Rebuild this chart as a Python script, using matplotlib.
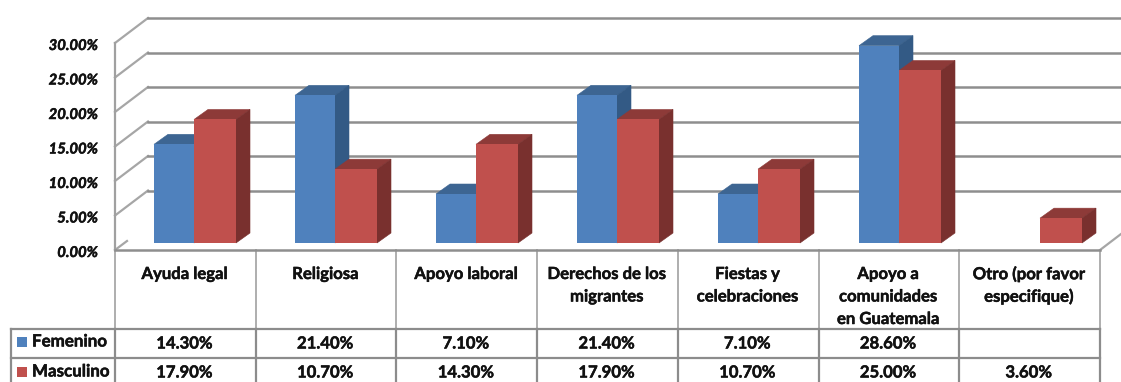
import matplotlib
matplotlib.use('Agg')
import matplotlib.pyplot as plt
import matplotlib.patheffects as pe
from matplotlib.patches import Polygon, Rectangle

# data
categorias = ['Ayuda legal', 'Religiosa', 'Apoyo laboral', 'Derechos de los\nmigrantes',
              'Fiestas y\ncelebraciones', 'Apoyo a\ncomunidades\nen Guatemala',
              'Otro (por favor\nespecifique)']
femenino = [14.3, 21.4, 7.1, 21.4, 7.1, 28.6, None]
masculino = [17.9, 10.7, 14.3, 17.9, 10.7, 25.0, 3.6]
ticks = [0, 5, 10, 15, 20, 25, 30]

W, H = 1121, 382
plt.rcParams['font.family'] = ['Lato', 'DejaVu Sans']
fig = plt.figure(figsize=(W / 100, H / 100), dpi=100)

# slightly heavier text, the original is a tight bold face
fat = [pe.withStroke(linewidth=0.35, foreground='#111111')]

# pixel axes for walls and table
bg = fig.add_axes([0, 0, 1, 1])
bg.set_xlim(0, W)
bg.set_ylim(H, 0)
bg.axis('off')

# data axes for the bars, scaled to sit on the floor of the chart
gstep = 141.0
ystep = 6.9
ax = fig.add_axes([0, 0, 1, 1])
ax.set_xlim(-194 / gstep, (W - 194) / gstep)
ax.set_ylim((243 - H) / ystep, 243 / ystep)
ax.axis('off')
ax.patch.set_alpha(0)

GRID = '#8e8e8e'
front_x0, front_x1 = 115, 1100
front_y0, level = 250, 34.5
ddx, ddy = 33, 25

for t in ticks:
    y = front_y0 - t / 5 * level
    if t > 0:
        bg.plot([front_x0, front_x0 + ddx], [y, y - ddy], color='#a6a6a6', lw=1.6)
        bg.plot([front_x0 + ddx, W], [y - ddy, y - ddy], color=GRID, lw=1.8)
    bg.text(98, y + 3, '%.2f%%' % t, ha='right', va='center', fontsize=10.7,
            fontweight='bold', fontstyle='italic', color='#111111', path_effects=fat)
bg.plot([front_x0, front_x0 + 12], [front_y0, front_y0 - 9], color='#a6a6a6', lw=1.6)
bg.plot([front_x1, W], [front_y0, front_y0 - 16], color='#a6a6a6', lw=1.6)
bg.plot([front_x0, front_x0], [front_y0 - 6 * level, front_y0], color='#a0a0a0', lw=1.6)

# bars
wf = 40 / gstep
wm = 42 / gstep
dx = 14 / gstep
dy = 10 / ystep


def bar3d(left, v, width, face, top, side):
    ax.bar(left, v, width, align='edge', color=face, linewidth=0, zorder=3)
    l, r = left, left + width
    ax.add_patch(Polygon([(l, v), (l + dx, v + dy), (r + dx, v + dy), (r, v)],
                         closed=True, fc=top, ec=top, lw=0.4, zorder=2.9))
    ax.add_patch(Polygon([(r, 0), (r + dx, dy), (r + dx, v + dy), (r, v)],
                         closed=True, fc=side, ec=side, lw=0.4, zorder=2.9))


for i in range(len(categorias)):
    if femenino[i] is not None:
        bar3d(i - wf, femenino[i], wf, '#4f81bd', '#3d6592', '#335a85')
    if masculino[i] is not None:
        bar3d(i, masculino[i], wm, '#c0504d', '#8d3a38', '#79302e')

# data table
sep = [front_x0 + (front_x1 - front_x0) / 7 * i for i in range(8)]
LINE = '#a8a8a8'
LINE2 = '#8c8c8c'
for s in sep:
    bg.plot([s, s], [front_y0, 329], color=LINE, lw=1.3)
    bg.plot([s, s], [329, H], color=LINE2, lw=1.6)
bg.plot([front_x0, front_x1], [front_y0, front_y0], color=GRID, lw=1.8)
bg.plot([11, front_x1], [329, 329], color=LINE2, lw=1.6)
bg.plot([11, front_x1], [358, 358], color=LINE2, lw=1.6)
bg.plot([11, 11], [329, H], color=LINE2, lw=1.6)

for i, c in enumerate(categorias):
    xc = (sep[i] + sep[i + 1]) / 2 - 1
    for j, part in enumerate(c.split('\n')):
        bg.text(xc, 274 + j * 22.5, part, ha='center', va='center', fontsize=12,
                fontweight='bold', color='#111111', path_effects=fat)
    if femenino[i] is not None:
        bg.text(xc, 343.5, '%.2f%%' % femenino[i], ha='center', va='center', fontsize=12,
                fontweight='bold', color='#111111', path_effects=fat)
    if masculino[i] is not None:
        bg.text(xc, 372.5, '%.2f%%' % masculino[i], ha='center', va='center', fontsize=12,
                fontweight='bold', color='#111111', path_effects=fat)

bg.add_patch(Rectangle((17, 337), 10, 10, fc='#4f81bd', ec='none'))
bg.add_patch(Rectangle((17, 367), 10, 10, fc='#c0504d', ec='none'))
bg.text(32, 341.5, 'Femenino', ha='left', va='center', fontsize=12.2, fontweight='bold',
        color='#111111', path_effects=fat)
bg.text(32, 371.5, 'Masculino', ha='left', va='center', fontsize=12.2, fontweight='bold',
        color='#111111', path_effects=fat)

fig.savefig('out.png', dpi=100)
